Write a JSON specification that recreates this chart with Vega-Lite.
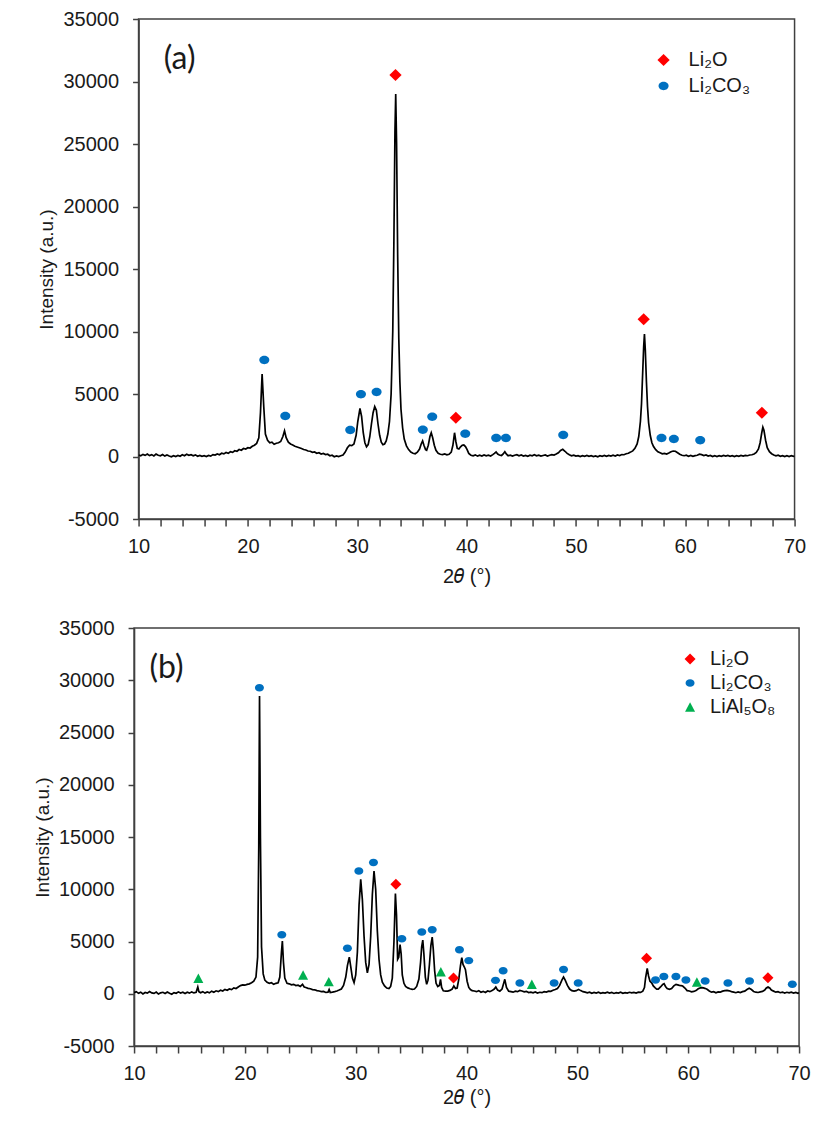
{
  "$schema": "https://vega.github.io/schema/vega-lite/v6.json",
  "background": "white",
  "padding": {"left": 32, "top": 8, "right": 5, "bottom": 5},
  "center": true,
  "spacing": 30,
  "config": {
    "view": {"stroke": "#404040", "strokeWidth": 1.5},
    "font": "Liberation Sans",
    "axis": {
      "grid": false,
      "labelFont": "Liberation Sans",
      "labelFontSize": 20,
      "labelColor": "#1a1a1a",
      "titleFont": "Liberation Sans",
      "titleFontSize": 19,
      "titleFontWeight": "normal",
      "titleColor": "#1a1a1a",
      "domainColor": "#404040",
      "domainWidth": 1.5,
      "tickColor": "#404040",
      "tickWidth": 1.5,
      "labelOverlap": false,
      "labelFlush": false
    },
    "axisX": {"labelOverlap": false},
    "axisY": {"labelOverlap": false},
    "legend": {
      "labelFont": "Liberation Sans",
      "labelFontSize": 20,
      "labelColor": "#1a1a1a",
      "symbolStrokeWidth": 0,
      "symbolOpacity": 1
    }
  },
  "resolve": {"scale": {"color": "independent", "shape": "independent"}, "legend": {"color": "independent", "shape": "independent"}},
  "datasets": {
    "a": [
      {"t":10.0,"i":120},{"t":10.2,"i":60},{"t":10.4,"i":170},{"t":10.6,"i":90},{"t":10.8,"i":200},{"t":11.0,"i":70},{"t":11.2,"i":150},{"t":11.4,"i":50},{"t":11.6,"i":190},{"t":11.8,"i":100},
      {"t":12.0,"i":60},{"t":12.2,"i":160},{"t":12.4,"i":30},{"t":12.6,"i":120},{"t":12.8,"i":40},{"t":13.0,"i":-20},{"t":13.2,"i":70},{"t":13.4,"i":0},{"t":13.6,"i":90},{"t":13.8,"i":20},
      {"t":14.0,"i":140},{"t":14.2,"i":60},{"t":14.4,"i":180},{"t":14.6,"i":90},{"t":14.8,"i":150},{"t":15.0,"i":60},{"t":15.2,"i":130},{"t":15.4,"i":20},{"t":15.6,"i":90},{"t":15.8,"i":10},
      {"t":16.0,"i":60},{"t":16.2,"i":-10},{"t":16.4,"i":80},{"t":16.6,"i":30},{"t":16.8,"i":150},{"t":17.0,"i":110},{"t":17.2,"i":200},{"t":17.4,"i":140},{"t":17.6,"i":260},{"t":17.8,"i":210},
      {"t":18.0,"i":320},{"t":18.2,"i":250},{"t":18.4,"i":380},{"t":18.6,"i":330},{"t":18.8,"i":460},{"t":19.0,"i":420},{"t":19.2,"i":560},{"t":19.4,"i":500},{"t":19.6,"i":640},{"t":19.8,"i":600},
      {"t":20.0,"i":700},{"t":20.2,"i":680},{"t":20.4,"i":820},{"t":20.6,"i":900},{"t":20.8,"i":1050},{"t":21.0,"i":1500},{"t":21.15,"i":3500},{"t":21.3,"i":6600},{"t":21.45,"i":4000},{"t":21.6,"i":1800},
      {"t":21.8,"i":1300},{"t":22.0,"i":1100},{"t":22.2,"i":1150},{"t":22.4,"i":980},{"t":22.6,"i":1060},{"t":22.8,"i":1100},{"t":23.0,"i":1200},{"t":23.2,"i":1600},{"t":23.35,"i":2050},{"t":23.5,"i":1500},
      {"t":23.7,"i":1150},{"t":23.9,"i":1000},{"t":24.1,"i":920},{"t":24.3,"i":820},{"t":24.5,"i":760},{"t":24.7,"i":700},{"t":24.9,"i":640},{"t":25.1,"i":560},{"t":25.3,"i":520},{"t":25.5,"i":440},
      {"t":25.7,"i":420},{"t":25.9,"i":330},{"t":26.1,"i":360},{"t":26.3,"i":260},{"t":26.5,"i":300},{"t":26.7,"i":200},{"t":26.9,"i":240},{"t":27.1,"i":150},{"t":27.3,"i":180},{"t":27.5,"i":60},
      {"t":27.7,"i":100},{"t":27.9,"i":-20},{"t":28.1,"i":40},{"t":28.3,"i":-10},{"t":28.5,"i":60},{"t":28.7,"i":120},{"t":28.9,"i":350},{"t":29.1,"i":700},{"t":29.3,"i":900},{"t":29.5,"i":870},
      {"t":29.7,"i":1000},{"t":29.9,"i":1700},{"t":30.05,"i":2800},{"t":30.25,"i":3850},{"t":30.4,"i":3200},{"t":30.55,"i":1900},{"t":30.7,"i":1100},{"t":30.85,"i":780},{"t":31.0,"i":950},{"t":31.15,"i":1600},
      {"t":31.3,"i":2600},{"t":31.45,"i":3500},{"t":31.6,"i":4000},{"t":31.75,"i":3700},{"t":31.9,"i":2600},{"t":32.05,"i":1700},{"t":32.2,"i":1150},{"t":32.35,"i":950},{"t":32.5,"i":1000},{"t":32.65,"i":1250},
      {"t":32.8,"i":1800},{"t":32.95,"i":2800},{"t":33.1,"i":5000},{"t":33.25,"i":10000},{"t":33.35,"i":17000},{"t":33.45,"i":26000},{"t":33.52,"i":29000},{"t":33.6,"i":25000},{"t":33.7,"i":16000},{"t":33.8,"i":9500},
      {"t":33.9,"i":6000},{"t":34.0,"i":3800},{"t":34.15,"i":2300},{"t":34.3,"i":1400},{"t":34.5,"i":850},{"t":34.7,"i":550},{"t":34.9,"i":350},{"t":35.1,"i":260},{"t":35.3,"i":220},{"t":35.5,"i":350},
      {"t":35.7,"i":600},{"t":35.85,"i":1000},{"t":35.98,"i":1250},{"t":36.1,"i":900},{"t":36.25,"i":550},{"t":36.35,"i":500},{"t":36.5,"i":900},{"t":36.65,"i":1600},{"t":36.77,"i":1900},{"t":36.9,"i":1500},
      {"t":37.05,"i":900},{"t":37.2,"i":500},{"t":37.4,"i":260},{"t":37.6,"i":180},{"t":37.8,"i":150},{"t":38.0,"i":200},{"t":38.2,"i":130},{"t":38.4,"i":180},{"t":38.6,"i":350},{"t":38.75,"i":900},
      {"t":38.9,"i":1900},{"t":39.02,"i":1200},{"t":39.15,"i":650},{"t":39.3,"i":600},{"t":39.45,"i":780},{"t":39.6,"i":900},{"t":39.75,"i":920},{"t":39.9,"i":800},{"t":40.05,"i":550},{"t":40.2,"i":250},
      {"t":40.4,"i":100},{"t":40.6,"i":60},{"t":40.8,"i":130},{"t":41.0,"i":30},{"t":41.2,"i":110},{"t":41.4,"i":40},{"t":41.6,"i":130},{"t":41.8,"i":60},{"t":42.0,"i":100},{"t":42.2,"i":40},
      {"t":42.4,"i":150},{"t":42.55,"i":250},{"t":42.7,"i":360},{"t":42.85,"i":200},{"t":43.0,"i":120},{"t":43.2,"i":80},{"t":43.35,"i":200},{"t":43.5,"i":380},{"t":43.65,"i":180},{"t":43.8,"i":60},
      {"t":44.0,"i":110},{"t":44.2,"i":30},{"t":44.4,"i":100},{"t":44.6,"i":150},{"t":44.8,"i":60},{"t":45.0,"i":120},{"t":45.2,"i":40},{"t":45.4,"i":90},{"t":45.6,"i":20},{"t":45.8,"i":110},
      {"t":46.0,"i":60},{"t":46.2,"i":140},{"t":46.4,"i":50},{"t":46.6,"i":100},{"t":46.8,"i":30},{"t":47.0,"i":80},{"t":47.2,"i":130},{"t":47.4,"i":40},{"t":47.6,"i":100},{"t":47.8,"i":150},
      {"t":48.0,"i":120},{"t":48.2,"i":200},{"t":48.4,"i":300},{"t":48.6,"i":480},{"t":48.8,"i":580},{"t":49.0,"i":420},{"t":49.2,"i":250},{"t":49.4,"i":140},{"t":49.6,"i":60},{"t":49.8,"i":110},
      {"t":50.0,"i":30},{"t":50.2,"i":70},{"t":50.4,"i":-10},{"t":50.6,"i":60},{"t":50.8,"i":20},{"t":51.0,"i":90},{"t":51.2,"i":10},{"t":51.4,"i":70},{"t":51.6,"i":0},{"t":51.8,"i":50},
      {"t":52.0,"i":-20},{"t":52.2,"i":60},{"t":52.4,"i":20},{"t":52.6,"i":90},{"t":52.8,"i":10},{"t":53.0,"i":80},{"t":53.2,"i":30},{"t":53.4,"i":100},{"t":53.6,"i":40},{"t":53.8,"i":120},
      {"t":54.0,"i":80},{"t":54.2,"i":160},{"t":54.4,"i":140},{"t":54.6,"i":220},{"t":54.8,"i":260},{"t":55.0,"i":350},{"t":55.2,"i":450},{"t":55.4,"i":650},{"t":55.6,"i":1000},{"t":55.75,"i":1600},
      {"t":55.9,"i":2800},{"t":56.0,"i":4200},{"t":56.1,"i":6500},{"t":56.2,"i":8800},{"t":56.27,"i":9800},{"t":56.35,"i":8500},{"t":56.45,"i":6000},{"t":56.55,"i":4000},{"t":56.65,"i":2700},{"t":56.8,"i":1700},
      {"t":56.95,"i":1100},{"t":57.1,"i":800},{"t":57.3,"i":550},{"t":57.5,"i":380},{"t":57.7,"i":300},{"t":57.9,"i":220},{"t":58.1,"i":250},{"t":58.3,"i":200},{"t":58.5,"i":280},{"t":58.7,"i":380},
      {"t":58.9,"i":440},{"t":59.1,"i":420},{"t":59.3,"i":300},{"t":59.5,"i":180},{"t":59.7,"i":100},{"t":59.9,"i":60},{"t":60.1,"i":100},{"t":60.3,"i":20},{"t":60.5,"i":80},{"t":60.7,"i":10},
      {"t":60.9,"i":70},{"t":61.1,"i":100},{"t":61.3,"i":180},{"t":61.5,"i":150},{"t":61.7,"i":80},{"t":61.9,"i":130},{"t":62.1,"i":40},{"t":62.3,"i":80},{"t":62.5,"i":-10},{"t":62.7,"i":60},
      {"t":62.9,"i":0},{"t":63.1,"i":70},{"t":63.3,"i":10},{"t":63.5,"i":80},{"t":63.7,"i":30},{"t":63.9,"i":90},{"t":64.1,"i":20},{"t":64.3,"i":70},{"t":64.5,"i":-10},{"t":64.7,"i":60},
      {"t":64.9,"i":10},{"t":65.1,"i":80},{"t":65.3,"i":30},{"t":65.5,"i":90},{"t":65.7,"i":60},{"t":65.9,"i":120},{"t":66.1,"i":140},{"t":66.3,"i":200},{"t":66.5,"i":320},{"t":66.7,"i":600},
      {"t":66.85,"i":1100},{"t":67.0,"i":1900},{"t":67.1,"i":2350},{"t":67.2,"i":2100},{"t":67.35,"i":1300},{"t":67.5,"i":700},{"t":67.7,"i":380},{"t":67.9,"i":220},{"t":68.1,"i":120},{"t":68.3,"i":60},
      {"t":68.5,"i":100},{"t":68.7,"i":20},{"t":68.9,"i":70},{"t":69.1,"i":-10},{"t":69.3,"i":60},{"t":69.5,"i":0},{"t":69.7,"i":70},{"t":69.9,"i":10},{"t":70.0,"i":40}
    ],
    "b": [
      {"t":10.0,"i":100},{"t":10.2,"i":200},{"t":10.4,"i":40},{"t":10.6,"i":150},{"t":10.8,"i":-20},{"t":11.0,"i":120},{"t":11.2,"i":60},{"t":11.4,"i":220},{"t":11.6,"i":80},{"t":11.8,"i":30},
      {"t":12.0,"i":160},{"t":12.2,"i":-30},{"t":12.4,"i":90},{"t":12.6,"i":140},{"t":12.8,"i":20},{"t":13.0,"i":170},{"t":13.2,"i":50},{"t":13.4,"i":-40},{"t":13.6,"i":110},{"t":13.8,"i":40},
      {"t":14.0,"i":180},{"t":14.2,"i":70},{"t":14.4,"i":140},{"t":14.6,"i":20},{"t":14.8,"i":150},{"t":15.0,"i":60},{"t":15.2,"i":180},{"t":15.4,"i":80},{"t":15.6,"i":140},{"t":15.75,"i":650},
      {"t":15.85,"i":200},{"t":16.0,"i":90},{"t":16.2,"i":200},{"t":16.4,"i":60},{"t":16.6,"i":170},{"t":16.8,"i":90},{"t":17.0,"i":250},{"t":17.2,"i":150},{"t":17.4,"i":280},{"t":17.6,"i":200},
      {"t":17.8,"i":330},{"t":18.0,"i":260},{"t":18.2,"i":420},{"t":18.4,"i":330},{"t":18.6,"i":460},{"t":18.8,"i":400},{"t":19.0,"i":560},{"t":19.2,"i":500},{"t":19.4,"i":650},{"t":19.6,"i":780},
      {"t":19.8,"i":850},{"t":20.0,"i":820},{"t":20.2,"i":900},{"t":20.4,"i":950},{"t":20.6,"i":1050},{"t":20.8,"i":1200},{"t":21.0,"i":1600},{"t":21.15,"i":3500},{"t":21.25,"i":14000},{"t":21.32,"i":28500},
      {"t":21.4,"i":15000},{"t":21.5,"i":4500},{"t":21.65,"i":1900},{"t":21.8,"i":1300},{"t":22.0,"i":1100},{"t":22.2,"i":1000},{"t":22.4,"i":1050},{"t":22.6,"i":900},{"t":22.8,"i":1000},{"t":23.0,"i":1050},
      {"t":23.15,"i":1600},{"t":23.3,"i":4000},{"t":23.38,"i":5050},{"t":23.48,"i":3000},{"t":23.6,"i":1500},{"t":23.8,"i":1000},{"t":24.0,"i":950},{"t":24.2,"i":850},{"t":24.4,"i":900},{"t":24.6,"i":780},
      {"t":24.8,"i":820},{"t":25.0,"i":700},{"t":25.2,"i":900},{"t":25.35,"i":650},{"t":25.5,"i":600},{"t":25.7,"i":520},{"t":25.9,"i":480},{"t":26.1,"i":400},{"t":26.3,"i":380},{"t":26.5,"i":300},
      {"t":26.7,"i":260},{"t":26.9,"i":200},{"t":27.1,"i":220},{"t":27.3,"i":120},{"t":27.5,"i":150},{"t":27.6,"i":400},{"t":27.7,"i":120},{"t":27.9,"i":150},{"t":28.1,"i":200},{"t":28.3,"i":260},
      {"t":28.5,"i":350},{"t":28.7,"i":450},{"t":28.9,"i":800},{"t":29.1,"i":1600},{"t":29.25,"i":2700},{"t":29.42,"i":3500},{"t":29.55,"i":2600},{"t":29.7,"i":1500},{"t":29.85,"i":1060},{"t":30.0,"i":1800},
      {"t":30.15,"i":4000},{"t":30.3,"i":8500},{"t":30.45,"i":10950},{"t":30.6,"i":9000},{"t":30.75,"i":5500},{"t":30.9,"i":3000},{"t":31.05,"i":2000},{"t":31.2,"i":2800},{"t":31.35,"i":5500},{"t":31.5,"i":9500},
      {"t":31.65,"i":11750},{"t":31.8,"i":10000},{"t":31.95,"i":6000},{"t":32.1,"i":3300},{"t":32.25,"i":1800},{"t":32.4,"i":1100},{"t":32.6,"i":750},{"t":32.8,"i":550},{"t":33.0,"i":500},{"t":33.15,"i":700},
      {"t":33.3,"i":1500},{"t":33.45,"i":5000},{"t":33.58,"i":9600},{"t":33.68,"i":7500},{"t":33.78,"i":3300},{"t":33.88,"i":3500},{"t":34.0,"i":4700},{"t":34.1,"i":3800},{"t":34.2,"i":1800},{"t":34.35,"i":1000},
      {"t":34.5,"i":700},{"t":34.7,"i":560},{"t":34.9,"i":480},{"t":35.1,"i":420},{"t":35.3,"i":450},{"t":35.5,"i":700},{"t":35.7,"i":1400},{"t":35.85,"i":3000},{"t":35.95,"i":4500},{"t":36.05,"i":5140},
      {"t":36.15,"i":3800},{"t":36.28,"i":1600},{"t":36.4,"i":900},{"t":36.52,"i":1300},{"t":36.65,"i":2800},{"t":36.78,"i":4600},{"t":36.9,"i":5430},{"t":37.0,"i":4200},{"t":37.12,"i":2200},{"t":37.25,"i":1000},
      {"t":37.4,"i":700},{"t":37.55,"i":800},{"t":37.65,"i":1380},{"t":37.75,"i":600},{"t":37.9,"i":280},{"t":38.1,"i":250},{"t":38.3,"i":260},{"t":38.5,"i":320},{"t":38.7,"i":450},{"t":38.85,"i":740},
      {"t":39.0,"i":500},{"t":39.15,"i":550},{"t":39.3,"i":1400},{"t":39.45,"i":2700},{"t":39.57,"i":3450},{"t":39.68,"i":2800},{"t":39.8,"i":2560},{"t":39.9,"i":2300},{"t":40.05,"i":1200},{"t":40.2,"i":600},
      {"t":40.35,"i":400},{"t":40.5,"i":300},{"t":40.7,"i":260},{"t":40.9,"i":200},{"t":41.1,"i":300},{"t":41.3,"i":150},{"t":41.5,"i":230},{"t":41.7,"i":120},{"t":41.9,"i":260},{"t":42.1,"i":200},
      {"t":42.3,"i":300},{"t":42.5,"i":450},{"t":42.64,"i":650},{"t":42.8,"i":350},{"t":43.0,"i":250},{"t":43.2,"i":450},{"t":43.35,"i":1000},{"t":43.45,"i":1380},{"t":43.6,"i":600},{"t":43.8,"i":250},
      {"t":44.0,"i":200},{"t":44.2,"i":150},{"t":44.4,"i":250},{"t":44.6,"i":200},{"t":44.8,"i":320},{"t":45.0,"i":260},{"t":45.2,"i":180},{"t":45.4,"i":230},{"t":45.6,"i":120},{"t":45.8,"i":150},
      {"t":46.0,"i":90},{"t":46.2,"i":170},{"t":46.4,"i":60},{"t":46.6,"i":140},{"t":46.8,"i":100},{"t":47.0,"i":200},{"t":47.2,"i":160},{"t":47.4,"i":250},{"t":47.6,"i":230},{"t":47.8,"i":330},
      {"t":48.0,"i":400},{"t":48.2,"i":500},{"t":48.4,"i":800},{"t":48.6,"i":1300},{"t":48.75,"i":1600},{"t":48.9,"i":1300},{"t":49.1,"i":800},{"t":49.3,"i":450},{"t":49.5,"i":300},{"t":49.7,"i":250},
      {"t":49.9,"i":300},{"t":50.1,"i":420},{"t":50.3,"i":300},{"t":50.5,"i":200},{"t":50.7,"i":150},{"t":50.9,"i":90},{"t":51.1,"i":150},{"t":51.3,"i":50},{"t":51.5,"i":120},{"t":51.7,"i":60},
      {"t":51.9,"i":140},{"t":52.1,"i":40},{"t":52.3,"i":110},{"t":52.5,"i":70},{"t":52.7,"i":150},{"t":52.9,"i":60},{"t":53.1,"i":120},{"t":53.3,"i":30},{"t":53.5,"i":100},{"t":53.7,"i":60},
      {"t":53.9,"i":140},{"t":54.1,"i":50},{"t":54.3,"i":110},{"t":54.5,"i":60},{"t":54.7,"i":140},{"t":54.9,"i":80},{"t":55.1,"i":130},{"t":55.3,"i":70},{"t":55.5,"i":150},{"t":55.7,"i":130},
      {"t":55.9,"i":250},{"t":56.05,"i":600},{"t":56.15,"i":1500},{"t":56.3,"i":2435},{"t":56.42,"i":1700},{"t":56.55,"i":1200},{"t":56.7,"i":1050},{"t":56.85,"i":750},{"t":57.0,"i":580},{"t":57.15,"i":450},
      {"t":57.3,"i":450},{"t":57.5,"i":650},{"t":57.7,"i":900},{"t":57.82,"i":960},{"t":57.95,"i":700},{"t":58.1,"i":500},{"t":58.3,"i":420},{"t":58.5,"i":500},{"t":58.7,"i":750},{"t":58.9,"i":900},
      {"t":59.05,"i":850},{"t":59.2,"i":800},{"t":59.35,"i":780},{"t":59.5,"i":740},{"t":59.7,"i":550},{"t":59.9,"i":300},{"t":60.1,"i":260},{"t":60.3,"i":180},{"t":60.5,"i":220},{"t":60.7,"i":300},
      {"t":60.9,"i":480},{"t":61.1,"i":560},{"t":61.3,"i":580},{"t":61.5,"i":520},{"t":61.7,"i":430},{"t":61.9,"i":260},{"t":62.1,"i":150},{"t":62.3,"i":200},{"t":62.5,"i":100},{"t":62.7,"i":180},
      {"t":62.9,"i":160},{"t":63.1,"i":250},{"t":63.3,"i":300},{"t":63.5,"i":330},{"t":63.7,"i":280},{"t":63.9,"i":200},{"t":64.1,"i":150},{"t":64.3,"i":100},{"t":64.5,"i":170},{"t":64.7,"i":120},
      {"t":64.9,"i":200},{"t":65.1,"i":250},{"t":65.3,"i":400},{"t":65.5,"i":520},{"t":65.7,"i":400},{"t":65.9,"i":220},{"t":66.1,"i":150},{"t":66.3,"i":120},{"t":66.5,"i":180},{"t":66.7,"i":220},
      {"t":66.9,"i":350},{"t":67.05,"i":550},{"t":67.2,"i":650},{"t":67.35,"i":550},{"t":67.5,"i":350},{"t":67.7,"i":250},{"t":67.9,"i":150},{"t":68.1,"i":200},{"t":68.3,"i":100},{"t":68.5,"i":160},
      {"t":68.7,"i":60},{"t":68.9,"i":140},{"t":69.1,"i":80},{"t":69.3,"i":150},{"t":69.5,"i":60},{"t":69.7,"i":130},{"t":69.9,"i":40},{"t":70.0,"i":100}
    ],
    "m": [
      {"p":"a","ph":"Li₂O","t":33.5,"i":30520},{"p":"a","ph":"Li₂O","t":39.02,"i":3100},{"p":"a","ph":"Li₂O","t":56.2,"i":10980},{"p":"a","ph":"Li₂O","t":67.01,"i":3500},
      {"p":"a","ph":"Li₂CO₃","t":21.5,"i":7720},{"p":"a","ph":"Li₂CO₃","t":23.42,"i":3240},{"p":"a","ph":"Li₂CO₃","t":29.36,"i":2120},{"p":"a","ph":"Li₂CO₃","t":30.34,"i":4980},
      {"p":"a","ph":"Li₂CO₃","t":31.77,"i":5160},{"p":"a","ph":"Li₂CO₃","t":36.0,"i":2140},{"p":"a","ph":"Li₂CO₃","t":36.86,"i":3180},{"p":"a","ph":"Li₂CO₃","t":39.88,"i":1820},
      {"p":"a","ph":"Li₂CO₃","t":42.71,"i":1480},{"p":"a","ph":"Li₂CO₃","t":43.6,"i":1480},{"p":"a","ph":"Li₂CO₃","t":48.84,"i":1720},{"p":"a","ph":"Li₂CO₃","t":57.83,"i":1480},
      {"p":"a","ph":"Li₂CO₃","t":58.96,"i":1400},{"p":"a","ph":"Li₂CO₃","t":61.37,"i":1300},
      {"p":"b","ph":"Li₂O","t":33.62,"i":10470},{"p":"b","ph":"Li₂O","t":38.82,"i":1510},{"p":"b","ph":"Li₂O","t":56.24,"i":3390},{"p":"b","ph":"Li₂O","t":67.19,"i":1540},
      {"p":"b","ph":"Li₂CO₃","t":21.31,"i":29290},{"p":"b","ph":"Li₂CO₃","t":23.33,"i":5650},{"p":"b","ph":"Li₂CO₃","t":29.25,"i":4350},{"p":"b","ph":"Li₂CO₃","t":30.28,"i":11750},
      {"p":"b","ph":"Li₂CO₃","t":31.6,"i":12550},{"p":"b","ph":"Li₂CO₃","t":34.16,"i":5270},{"p":"b","ph":"Li₂CO₃","t":35.96,"i":5910},{"p":"b","ph":"Li₂CO₃","t":36.9,"i":6130},
      {"p":"b","ph":"Li₂CO₃","t":39.36,"i":4220},{"p":"b","ph":"Li₂CO₃","t":40.2,"i":3170},{"p":"b","ph":"Li₂CO₃","t":42.61,"i":1280},{"p":"b","ph":"Li₂CO₃","t":43.3,"i":2210},
      {"p":"b","ph":"Li₂CO₃","t":44.81,"i":1030},{"p":"b","ph":"Li₂CO₃","t":47.9,"i":1030},{"p":"b","ph":"Li₂CO₃","t":48.75,"i":2310},{"p":"b","ph":"Li₂CO₃","t":50.07,"i":1030},
      {"p":"b","ph":"Li₂CO₃","t":57.05,"i":1320},{"p":"b","ph":"Li₂CO₃","t":57.8,"i":1640},{"p":"b","ph":"Li₂CO₃","t":58.89,"i":1640},{"p":"b","ph":"Li₂CO₃","t":59.79,"i":1320},
      {"p":"b","ph":"Li₂CO₃","t":61.53,"i":1220},{"p":"b","ph":"Li₂CO₃","t":63.58,"i":1030},{"p":"b","ph":"Li₂CO₃","t":65.53,"i":1220},{"p":"b","ph":"Li₂CO₃","t":69.39,"i":900},
      {"p":"b","ph":"LiAl₅O₈","t":15.8,"i":1480},{"p":"b","ph":"LiAl₅O₈","t":25.25,"i":1800},{"p":"b","ph":"LiAl₅O₈","t":27.57,"i":1160},{"p":"b","ph":"LiAl₅O₈","t":37.68,"i":2110},
      {"p":"b","ph":"LiAl₅O₈","t":45.89,"i":900},{"p":"b","ph":"LiAl₅O₈","t":60.78,"i":1120}
    ]
  },
  "vconcat": [
    {
      "width": 656,
      "height": 500,
      "layer": [
        {"data": {"name": "a"}, "mark": {"type": "line", "color": "black", "strokeWidth": 1.7, "clip": true},
          "encoding": {
            "x": {"field": "t", "type": "quantitative", "scale": {"domain": [10, 70], "nice": false, "zero": false},
              "axis": {"title": "2𝜃 (°)", "titleFontSize": 20, "values": [10,12,14,16,18,20,22,24,26,28,30,32,34,36,38,40,42,44,46,48,50,52,54,56,58,60,62,64,66,68,70],
                "labelExpr": "datum.value % 10 === 0 ? '' + datum.value : ''", "labelOverlap": false, "tickSize": 7, "labelPadding": 10, "titlePadding": 10}},
            "y": {"field": "i", "type": "quantitative", "scale": {"domain": [-5000, 35000], "nice": false, "zero": false},
              "axis": {"title": "Intensity (a.u.)", "values": [-5000,0,5000,10000,15000,20000,25000,30000,35000],
                "labelExpr": "'' + datum.value", "labelOverlap": false, "tickSize": 6, "labelPadding": 14, "titlePadding": 6}}
          }},
        {"data": {"name": "m"}, "transform": [{"filter": "datum.p === 'a'"}],
          "mark": {"type": "point", "filled": true, "size": 150, "opacity": 1, "strokeWidth": 0},
          "encoding": {
            "x": {"field": "t", "type": "quantitative",
              "axis": {"title": "2𝜃 (°)", "titleFontSize": 20, "values": [10,12,14,16,18,20,22,24,26,28,30,32,34,36,38,40,42,44,46,48,50,52,54,56,58,60,62,64,66,68,70],
                "labelExpr": "datum.value % 10 === 0 ? '' + datum.value : ''", "labelOverlap": false, "tickSize": 7, "labelPadding": 10, "titlePadding": 10}},
            "y": {"field": "i", "type": "quantitative",
              "axis": {"title": "Intensity (a.u.)", "values": [-5000,0,5000,10000,15000,20000,25000,30000,35000],
                "labelExpr": "'' + datum.value", "labelOverlap": false, "tickSize": 6, "labelPadding": 14, "titlePadding": 6}},
            "color": {"field": "ph", "type": "nominal", "scale": {"domain": ["Li₂O", "Li₂CO₃"], "range": ["#FF0000", "#0070C0"]},
              "legend": {"title": null, "orient": "none", "legendX": 515, "legendY": 31, "symbolSize": 150, "labelOffset": 15, "rowPadding": 6}},
            "shape": {"field": "ph", "type": "nominal", "scale": {"domain": ["Li₂O", "Li₂CO₃"], "range": ["diamond", "M-0.82,0A0.82,0.68,0,1,0,0.82,0A0.82,0.68,0,1,0,-0.82,0Z"]},
              "legend": {"title": null, "orient": "none", "legendX": 515, "legendY": 31, "symbolSize": 150, "labelOffset": 15, "rowPadding": 6}}
          }},
        {"data": {"values": [{"label": "(a)"}]},
          "mark": {"type": "text", "font": "Lato", "fontSize": 32, "color": "#1a1a1a", "align": "center", "baseline": "middle"},
          "encoding": {
            "x": {"datum": 13.75, "type": "quantitative",
              "axis": {"title": "2𝜃 (°)", "titleFontSize": 20, "values": [10,12,14,16,18,20,22,24,26,28,30,32,34,36,38,40,42,44,46,48,50,52,54,56,58,60,62,64,66,68,70],
                "labelExpr": "datum.value % 10 === 0 ? '' + datum.value : ''", "labelOverlap": false, "tickSize": 7, "labelPadding": 10, "titlePadding": 10}},
            "y": {"datum": 31800, "type": "quantitative",
              "axis": {"title": "Intensity (a.u.)", "values": [-5000,0,5000,10000,15000,20000,25000,30000,35000],
                "labelExpr": "'' + datum.value", "labelOverlap": false, "tickSize": 6, "labelPadding": 14, "titlePadding": 6}},
            "text": {"field": "label", "type": "nominal"}}}
      ]
    },
    {
      "width": 665,
      "height": 418,
      "layer": [
        {"data": {"name": "b"}, "mark": {"type": "line", "color": "black", "strokeWidth": 1.7, "clip": true},
          "encoding": {
            "x": {"field": "t", "type": "quantitative", "scale": {"domain": [10, 70], "nice": false, "zero": false},
              "axis": {"title": "2𝜃 (°)", "titleFontSize": 20, "values": [10,12,14,16,18,20,22,24,26,28,30,32,34,36,38,40,42,44,46,48,50,52,54,56,58,60,62,64,66,68,70],
                "labelExpr": "datum.value % 10 === 0 ? '' + datum.value : ''", "labelOverlap": false, "tickSize": 7, "labelPadding": 10, "titlePadding": 4}},
            "y": {"field": "i", "type": "quantitative", "scale": {"domain": [-5000, 35000], "nice": false, "zero": false},
              "axis": {"title": "Intensity (a.u.)", "values": [-5000,0,5000,10000,15000,20000,25000,30000,35000],
                "labelExpr": "'' + datum.value", "labelOverlap": false, "tickSize": 6, "labelPadding": 14, "titlePadding": 6}}
          }},
        {"data": {"name": "m"}, "transform": [{"filter": "datum.p === 'b'"}],
          "mark": {"type": "point", "filled": true, "size": 121, "opacity": 1, "strokeWidth": 0},
          "encoding": {
            "x": {"field": "t", "type": "quantitative",
              "axis": {"title": "2𝜃 (°)", "titleFontSize": 20, "values": [10,12,14,16,18,20,22,24,26,28,30,32,34,36,38,40,42,44,46,48,50,52,54,56,58,60,62,64,66,68,70],
                "labelExpr": "datum.value % 10 === 0 ? '' + datum.value : ''", "labelOverlap": false, "tickSize": 7, "labelPadding": 10, "titlePadding": 4}},
            "y": {"field": "i", "type": "quantitative",
              "axis": {"title": "Intensity (a.u.)", "values": [-5000,0,5000,10000,15000,20000,25000,30000,35000],
                "labelExpr": "'' + datum.value", "labelOverlap": false, "tickSize": 6, "labelPadding": 14, "titlePadding": 6}},
            "color": {"field": "ph", "type": "nominal", "scale": {"domain": ["Li₂O", "Li₂CO₃", "LiAl₅O₈"], "range": ["#FF0000", "#0070C0", "#00B050"]},
              "legend": {"title": null, "orient": "none", "legendX": 546, "legendY": 21, "symbolSize": 121, "labelOffset": 10, "rowPadding": 4}},
            "shape": {"field": "ph", "type": "nominal", "scale": {"domain": ["Li₂O", "Li₂CO₃", "LiAl₅O₈"], "range": ["diamond", "M-0.82,0A0.82,0.68,0,1,0,0.82,0A0.82,0.68,0,1,0,-0.82,0Z", "M0,-0.86L0.91,0.86L-0.91,0.86Z"]},
              "legend": {"title": null, "orient": "none", "legendX": 546, "legendY": 21, "symbolSize": 121, "labelOffset": 10, "rowPadding": 4}}
          }},
        {"data": {"values": [{"label": "(b)"}]},
          "mark": {"type": "text", "font": "Lato", "fontSize": 32, "color": "#1a1a1a", "align": "center", "baseline": "middle"},
          "encoding": {
            "x": {"datum": 12.93, "type": "quantitative",
              "axis": {"title": "2𝜃 (°)", "titleFontSize": 20, "values": [10,12,14,16,18,20,22,24,26,28,30,32,34,36,38,40,42,44,46,48,50,52,54,56,58,60,62,64,66,68,70],
                "labelExpr": "datum.value % 10 === 0 ? '' + datum.value : ''", "labelOverlap": false, "tickSize": 7, "labelPadding": 10, "titlePadding": 4}},
            "y": {"datum": 31220, "type": "quantitative",
              "axis": {"title": "Intensity (a.u.)", "values": [-5000,0,5000,10000,15000,20000,25000,30000,35000],
                "labelExpr": "'' + datum.value", "labelOverlap": false, "tickSize": 6, "labelPadding": 14, "titlePadding": 6}},
            "text": {"field": "label", "type": "nominal"}}}
      ]
    }
  ]
}
